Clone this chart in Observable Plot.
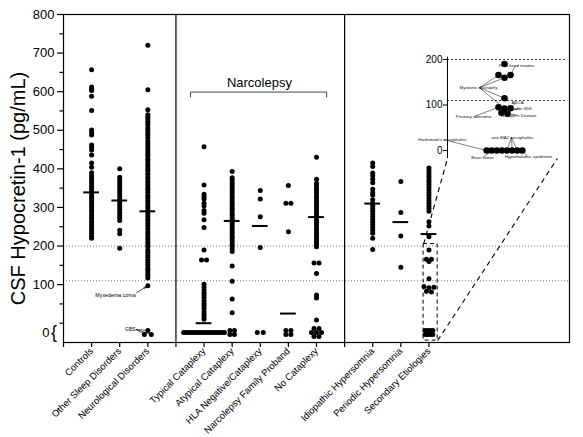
<!DOCTYPE html>
<html><head><meta charset="utf-8">
<script src="https://cdn.jsdelivr.net/npm/d3@7"></script>
<script src="https://cdn.jsdelivr.net/npm/@observablehq/plot@0.6"></script>
<style>
body{margin:0;background:#fff;}
#wrap{position:relative;width:583px;height:437px;}
#wrap svg{position:absolute;left:0;top:0;}
</style></head><body><div id="wrap"></div>
<script>
// ---------------- data ----------------
const categories = ["Controls", "Other Sleep Disorders", "Neurological Disorders", "Typical Cataplexy", "Atypical Cataplexy", "HLA Negative/Cataplexy", "Narcolepsy Family Proband", "No Cataplexy", "Idiopathic Hypersomnia", "Periodic Hypersomnia", "Secondary Etiologies"];
const catSlots = [1, 2, 3, 5, 6, 7, 8, 9, 11, 12, 13];
const separatorSlots = [4, 10];

const controls = [657, 612, 607, 603, 588, 551, 501, 494, 488, 462, 456, 449, 436, 415, 404, 390, 382, 375, 368, 361, 354, 347, 340, 333, 326, 320, 314, 308, 301, 294, 288, 281, 274, 268, 261, 254, 247, 240, 233, 226, 220];
const otherSleep = [400, 378, 371, 364, 357, 350, 343, 336, 329, 322, 315, 308, 301, 294, 287, 280, 273, 266, 241, 232, 194];
const neurological = [720, 605, 553, 540, 534, 527, 521, 514, 506, 500, 493, 487, 480, 472, 466, 459, 453, 446, 440, 433, 425, 419, 412, 406, 399, 393, 386, 378, 372, 365, 359, 352, 346, 339, 331, 325, 318, 312, 305, 299, 292, 284, 278, 271, 265, 258, 252, 245, 237, 231, 224, 218, 211, 205, 198, 190, 184, 177, 171, 164, 158, 151, 143, 137, 130, 124, 117, 97];
const typicalCataplexy = [457, 358, 334, 328, 322, 311, 304, 292, 285, 268, 248, 190, 164, 164, 101, 94, 86, 79, 73, 66, 58, 51, 45, 38, 30, 23, 17, 10];
const atypicalCataplexy = [393, 377, 371, 364, 358, 351, 344, 338, 331, 325, 318, 311, 305, 298, 292, 285, 279, 272, 266, 259, 252, 246, 239, 233, 226, 220, 213, 206, 200, 193, 186, 148, 109, 63, 27];
const hlaNegative = [344, 322, 276, 196];
const familyProband = [357, 311, 311, 237];
const noCataplexy = [430, 373, 363, 357, 350, 344, 338, 331, 325, 318, 312, 306, 299, 293, 286, 280, 274, 267, 261, 255, 248, 242, 235, 229, 223, 216, 210, 204, 198, 156, 156, 129, 73, 65, 8];
const idiopathic = [415, 406, 389, 382, 373, 364, 347, 338, 332, 320, 311, 304, 297, 290, 283, 276, 269, 262, 255, 248, 241, 233, 220, 191];
const periodic = [367, 287, 226, 145];
const secondary = [402, 395, 388, 381, 374, 367, 360, 353, 346, 339, 332, 325, 318, 311, 304, 297, 290, 263, 252, 224, 190, 166, 166, 160, 115, 95, 93, 92, 83, 81];

const groups = [controls, otherSleep, neurological, typicalCataplexy, atypicalCataplexy, hlaNegative, familyProband, noCataplexy, idiopathic, periodic, secondary];
// number of samples below detection, shown on the "0 {" level
const undetectable = [0, 0, 3, 18, 4, 2, 4, 7, 0, 0, 8];
const medians = [339, 318, 290, 0, 265, 252, 25, 275, 310, 262, 231];

const majorTicks = [100, 200, 300, 400, 500, 600, 700, 800];
const minorTicks = [0, 50, 150, 250, 350, 450, 550, 650, 750];
const cutoffLines = [200, 110];
const insetTicks = [0, 100, 200];

// ---------------- layout ----------------
const FONT = "'Liberation Sans', Arial, Helvetica, sans-serif";
const xS = d3.scaleLinear([0, 18], [63, 569]);
const yS = d3.scaleLinear([-50, 800], [342, 14]);
const ZERO_LEVEL = -24;

// undetectable stacking per group (rows of dots)
const zeroRowsLayout = [[], [], [1, 2], [18], [2, 2], [2], [2, 2], [2, 3, 2], [], [], [4, 4]];
const zeroSpacingLayout = [5, 5, 7, 2.4, 4.5, 6, 5, 5, 5, 5, 2.6];

function centerOut(n, s) {
  const o = Array.from({length: n}, (_, i) => (i - (n - 1) / 2) * s);
  return o.sort((a, b) => Math.abs(a) - Math.abs(b) || b - a);
}
function beeswarm(values, nZero, cfg, yPx, cx) {
  const out = [];
  const sorted = values.slice().sort((a, b) => b - a);
  const rows = [];
  for (const v of sorted) {
    const p = yPx(v);
    const last = rows[rows.length - 1];
    if (last && Math.abs(p - last.start) < cfg.gap) last.items.push(v);
    else rows.push({start: p, items: [v]});
  }
  for (const row of rows) {
    const items = row.items.slice().sort((a, b) => a - b);
    const offs = centerOut(items.length, cfg.spacing);
    items.forEach((v, i) => out.push({value: v, px: cx + offs[i], py: yPx(v)}));
  }
  let zr = cfg.zeroRows && d3.sum(cfg.zeroRows) === nZero ? cfg.zeroRows : (nZero ? [nZero] : []);
  zr.forEach((count, r) => {
    const py = yPx(cfg.zeroLevel) + (r - (zr.length - 1) / 2) * (cfg.zeroRowDy || 0);
    centerOut(count, cfg.zeroSpacing).forEach(o => out.push({value: 0, px: cx + o, py}));
  });
  return out;
}

const mainDots = [];
groups.forEach((vals, i) => {
  const pts = beeswarm(vals, undetectable[i], {gap: 1.5, spacing: 5, zeroSpacing: zeroSpacingLayout[i], zeroRows: zeroRowsLayout[i], zeroRowDy: 4, zeroLevel: ZERO_LEVEL}, yS, xS(catSlots[i]));
  pts.forEach(p => mainDots.push({group: categories[i], value: p.value, x: xS.invert(p.px), y: yS.invert(p.py)}));
});
const medianRows = medians.map((m, i) => ({slot: catSlots[i], m}));

const neuroDots = mainDots.filter(d => d.group === "Neurological Disorders");
const myx = neuroDots.find(d => d.value === 97);
const gbs = neuroDots.filter(d => d.value === 0);

const slotLabel = new Map(catSlots.map((s, i) => [s, categories[i]]));
const tickSlots = [0, 1, 2, 3, 4, 5, 6, 7, 8, 9, 10, 11, 12, 13];

// annotations of the main chart (in data units)
const bracket = [[4.52, 586], [4.52, 599], [9.36, 599], [9.36, 586]];
const zoomBox = {x1: 12.81, x2: 13.31, y1: -45, y2: 205};
const insetCorners = [{x1: 12.81, y1: 205, x2: 13.66, y2: 427}, {x1: 13.31, y1: -45, x2: 17.57, y2: 427}];

const main = Plot.plot({
  width: 583, height: 437,
  marginLeft: 63, marginRight: 14, marginTop: 14, marginBottom: 95,
  style: {fontFamily: FONT, background: "white", color: "black", overflow: "visible"},
  x: {domain: [0, 18], range: [63, 569]},
  y: {domain: [-50, 800], range: [342, 14]},
  marks: [
    Plot.ruleY(cutoffLines, {stroke: "#555", strokeWidth: 0.8, strokeDasharray: "1,2"}),
    Plot.ruleX(separatorSlots, {y1: -50, y2: 800, stroke: "black", strokeWidth: 1.2}),
    Plot.frame({stroke: "black", strokeWidth: 1.2}),
    Plot.axisY({ticks: majorTicks, tickSize: 6, tickPadding: 3, fontSize: 13, label: null, strokeWidth: 1.2}),
    Plot.axisY({ticks: minorTicks, tickSize: 3.5, tickFormat: () => "", label: null, strokeWidth: 1.2}),
    Plot.axisX({ticks: tickSlots, tickSize: 5, tickPadding: 2, tickFormat: s => slotLabel.get(s) || "", tickRotate: -45, fontSize: 9.5, label: null, strokeWidth: 1.2}),
    Plot.text(["0"], {frameAnchor: "left", y: ZERO_LEVEL, dx: -14, textAnchor: "end", fontSize: 13}),
    Plot.text(["{"], {frameAnchor: "left", y: ZERO_LEVEL, dx: -9.5, textAnchor: "middle", fontSize: 18, fontWeight: 300}),
    Plot.text(["CSF Hypocretin-1 (pg/mL)"], {frameAnchor: "left", dx: -45, dy: 10, rotate: -90, textAnchor: "middle", fontSize: 20}),
    // narcolepsy bracket
    Plot.line(bracket, {x: d => d[0], y: d => d[1], stroke: "#444", strokeWidth: 1}),
    Plot.text(["Narcolepsy"], {x: 6.97, y: 624, fontSize: 13}),
    // zoom box + connectors
    Plot.rect([zoomBox], {x1: "x1", x2: "x2", y1: "y1", y2: "y2", fill: "none", stroke: "black", strokeWidth: 1, strokeDasharray: "4,3"}),
    Plot.link(insetCorners, {x1: "x1", y1: "y1", x2: "x2", y2: "y2", stroke: "black", strokeWidth: 1.1, strokeDasharray: "5,4"}),
    // dots and medians
    Plot.dot(mainDots, {x: "x", y: "y", r: 2.5, fill: "black", stroke: "none"}),
    Plot.ruleY(medianRows, {y: "m", x1: d => d.slot - 0.28, x2: d => d.slot + 0.28, stroke: "black", strokeWidth: 2}),
    // notes
    Plot.text(["Myxedema coma"], {x: 1.85, y: 72, fontSize: 5.3}),
    Plot.arrow([myx], {x1: 2.6, y1: 79, x2: "x", y2: "y", insetEnd: 2.5, headLength: 4, stroke: "black", strokeWidth: 0.7}),
    Plot.text(["GBS"], {x: 2.38, y: -16, fontSize: 5}),
    Plot.link(gbs, {x1: 2.58, y1: -16, x2: "x", y2: "y", stroke: "black", strokeWidth: 0.6})
  ]
});

// ---------------- inset ----------------
const xI = d3.scaleLinear([0, 120], [447, 567]);
const yI = d3.scaleLinear([0, 200], [150, 59]);
const insetValues = secondary.filter(v => v <= 200);
const insetPts = beeswarm(insetValues, undetectable[10], {gap: 3.5, spacing: 6, zeroSpacing: 5.1, zeroRows: [8], zeroLevel: 0}, yI, xI(57))
  .map(p => ({value: p.value, x: xI.invert(p.px), y: yI.invert(p.py)}));

function target(value, rank) {
  return insetPts.filter(d => d.value === value).sort((a, b) => a.x - b.x)[rank];
}
const insetNotes = [
  {text: "Post-head trauma", x: 69, y: 187, anchor: "start", targets: [[166, 1]]},
  {text: "Myotonic dystrophy", x: 31, y: 138, anchor: "end", targets: [[166, 0], [160, 0], [115, 0], [92, 0]]},
  {text: "ADCA", x: 70, y: 106, anchor: "start", targets: [[93, 0]]},
  {text: "Prader-Willi", x: 73, y: 92, anchor: "start", targets: [[83, 0]]},
  {text: "Whipple's Disease", x: 71, y: 77, anchor: "start", targets: [[81, 0]]},
  {text: "Pituitary adenoma", x: 26, y: 75, anchor: "end", targets: [[95, 0]]},
  {text: "Hashimoto's encephalitis", x: -5, y: 24, anchor: "end", targets: [[0, 0]]},
  {text: "anti-MA2 encephalitis", x: 65, y: 29, anchor: "start", targets: [[0, 4], [0, 5], [0, 6]]},
  {text: "Brain tumor", x: 35, y: -15, anchor: "end", targets: [[0, 1]]},
  {text: "Hypothalamic syndrome", x: 81, y: -13, anchor: "start", targets: [[0, 7]]}
];
const leaders = [];
insetNotes.forEach(n => n.targets.forEach(([v, r]) => {
  const t = target(v, r);
  if (t) leaders.push({x1: n.anchor === "end" ? n.x + 1 : n.x - 1, y1: n.y, x2: t.x, y2: t.y});
}));

const inset = Plot.plot({
  width: 583, height: 437, marginLeft: 0, marginRight: 0, marginTop: 0, marginBottom: 0,
  style: {fontFamily: FONT, background: "transparent", color: "black", overflow: "visible"},
  x: {domain: [0, 120], range: [447, 567], axis: null},
  y: {domain: [0, 200], range: [150, 59], axis: null},
  marks: [
    Plot.ruleY(cutoffLines, {x1: 0, x2: 119, stroke: "#222", strokeWidth: 0.9, strokeDasharray: "2,2"}),
    Plot.ruleX([0], {y1: -18, y2: 205, stroke: "black", strokeWidth: 1}),
    Plot.ruleY(insetTicks, {x1: -4, x2: 0, stroke: "black", strokeWidth: 1}),
    Plot.text(insetTicks, {x: -5, y: d => d, text: d => String(d), textAnchor: "end", fontSize: 10}),
    Plot.link(leaders, {x1: "x1", y1: "y1", x2: "x2", y2: "y2", stroke: "black", strokeWidth: 0.5}),
    Plot.dot(insetPts, {x: "x", y: "y", r: 3.3, fill: "black", stroke: "none"}),
    Plot.text(insetNotes, {x: "x", y: "y", text: "text", textAnchor: "anchor", fontSize: 4.4, fill: "#111"})
  ]
});

const wrap = document.getElementById("wrap");
wrap.appendChild(main);
wrap.appendChild(inset);
</script></body></html>
